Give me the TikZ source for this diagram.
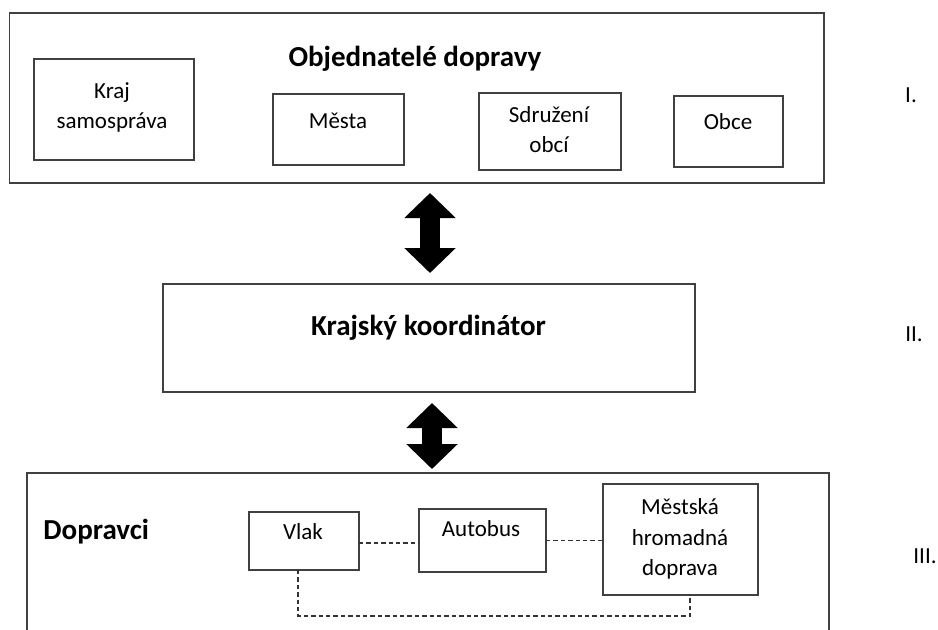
\documentclass[tikz,border=0pt]{standalone}
\usepackage{fontspec}
\setmainfont{Carlito}
\usetikzlibrary{arrows.meta,calc}
\begin{document}
\begin{tikzpicture}[x=0.5pt,y=-0.5pt,
  box/.style={draw=black!75,line width=0.9pt,inner sep=0pt,outer sep=0pt,anchor=north west},
  txt/.style={inner sep=0pt,anchor=base,font=\fontsize{11.5}{14}\selectfont},
  bold/.style={inner sep=0pt,anchor=base,font=\fontsize{14.5}{17}\selectfont\bfseries},
  blockarrow/.style={line width=10pt,
     {Triangle[width=25pt,length=12.5pt]}-{Triangle[width=25pt,length=12.5pt]}},
  dashline/.style={draw=black!80,line width=0.6pt,dash pattern=on 2.2pt off 1.5pt}]
\useasboundingbox (0,0) rectangle (938,629);
\clip (0,0) rectangle (938,629);
% level I
\node[box,minimum width=407.25pt,minimum height=85pt] (top) at (9.5,13) {};
\node[bold] (toptitle) at (415,66) {Objednatelé dopravy};
\node[box,minimum width=80pt,minimum height=50.5pt] (kraj) at (34,59) {};
\node[txt] (kraj1) at (112,98) {Kraj};
\node[txt] (kraj2) at (112,128) {samospráva};
\node[box,minimum width=65.5pt,minimum height=35.5pt] (mesta) at (273,94) {};
\node[txt] (mestaT) at (338,128) {Města};
\node[box,minimum width=71pt,minimum height=38.5pt] (sdruz) at (479,93) {};
\node[txt] (sdruz1) at (549,122) {Sdružení};
\node[txt] (sdruz2) at (549,152) {obcí};
\node[box,minimum width=54.5pt,minimum height=35.5pt] (obce) at (674,96) {};
\node[txt] (obceT) at (728,129) {Obce};
\node[txt] (lvl1) at (911,102) {I.};
% level II
\node[box,minimum width=266pt,minimum height=54pt] (mid) at (163,284) {};
\node[bold] (midT) at (428.5,335) {Krajský koordinátor};
\node[txt] (lvl2) at (914,341) {II.};
% level III
\node[box,minimum width=401pt,minimum height=95pt] (bot) at (27,473) {};
\node[bold,anchor=base west] (botT) at (43,539) {Dopravci};
\node[box,minimum width=55pt,minimum height=29pt] (vlak) at (249,512) {};
\node[txt] (vlakT) at (303,539) {Vlak};
\node[box,minimum width=63.5pt,minimum height=31.5pt] (auto) at (419,509) {};
\node[txt] (autoT) at (481,536) {Autobus};
\node[box,minimum width=77.5pt,minimum height=55.5pt] (mhd) at (603,484) {};
\node[txt] (mhd1) at (680,514) {Městská};
\node[txt] (mhd2) at (680,545) {hromadná};
\node[txt] (mhd3) at (680,575) {doprava};
\node[txt] (lvl3) at (925,563) {III.};
% arrows
\draw[blockarrow] ([yshift=-5pt,xshift=0.5pt]top.south -| mid.north) -- ([yshift=5.5pt,xshift=0.5pt]mid.north);
\draw[blockarrow] ([yshift=-5.5pt,xshift=1.5pt]mid.south) -- ([yshift=2pt,xshift=1.5pt]bot.north -| mid.south);
% dashed links
\coordinate (loopy) at (0,616);
\draw[dashline] ([yshift=-1pt]vlak.east) -- ([yshift=-1pt]vlak.east -| auto.west);
\draw[dashline] (auto.east) -- (auto.east -| mhd.west);
\draw[dashline] ([xshift=-3pt]vlak.south) -- ([xshift=-3pt]vlak.south |- loopy) -| ([xshift=4.75pt]mhd.south);
\end{tikzpicture}
\end{document}
